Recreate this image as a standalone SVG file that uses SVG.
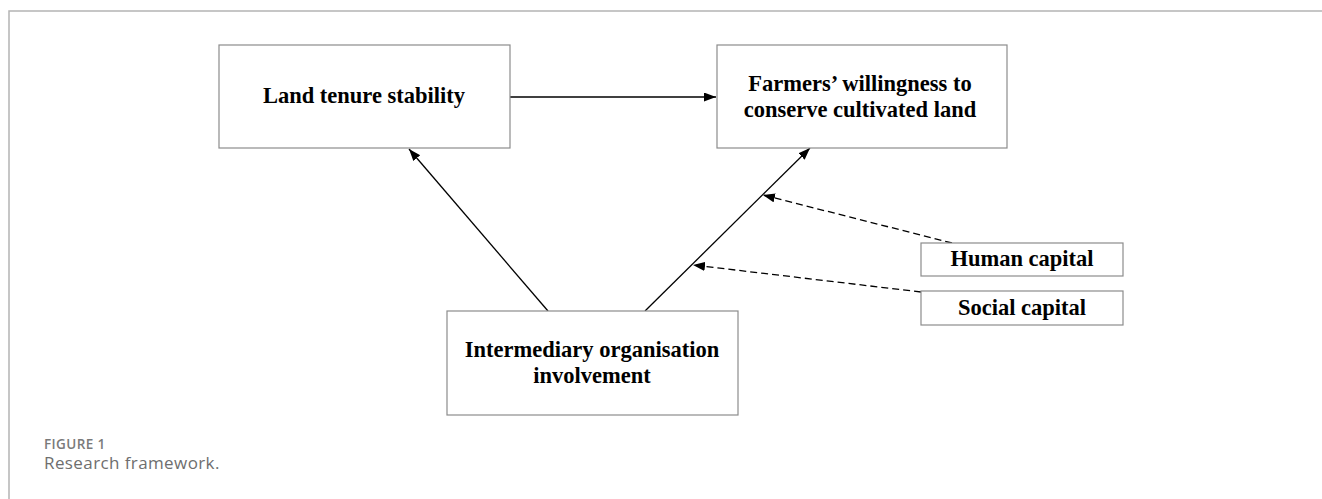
<svg xmlns="http://www.w3.org/2000/svg" width="1322" height="499" viewBox="0 0 1322 499">
<defs>
<style>
.box{fill:#fff;stroke:#8c8c8c;stroke-width:1.2}
.lbl{font-family:"Liberation Serif","Times New Roman",serif;font-weight:bold;font-size:22.5px;fill:#000;text-anchor:middle}
.edge{stroke:#000;stroke-width:1.3;fill:none}
.dash{stroke-dasharray:7 4}
.frame{stroke:#b4b4b4;stroke-width:1.5;fill:none}
.cap{font-family:"Open Sans","Liberation Sans",sans-serif}
</style>
<marker id="ah" markerUnits="userSpaceOnUse" markerWidth="13" markerHeight="10" refX="12" refY="4.5" orient="auto">
<path d="M0,0 L12,4.5 L0,9 z" fill="#000"/>
</marker>
</defs>
<rect width="1322" height="499" fill="#fff"/>
<path class="frame" d="M9,499 V11 H1322"/>
<g id="connectors">
<line class="edge" x1="510" y1="97" x2="716" y2="97" marker-end="url(#ah)"/>
<line class="edge" x1="548" y1="311" x2="409" y2="149" marker-end="url(#ah)"/>
<line class="edge" x1="645" y1="311" x2="810" y2="148" marker-end="url(#ah)"/>
<line class="edge dash" x1="952" y1="243" x2="763" y2="195" marker-end="url(#ah)"/>
<line class="edge dash" x1="921" y1="292" x2="693" y2="265" marker-end="url(#ah)"/>
</g>
<g id="land-tenure">
<rect class="box" x="219" y="45" width="291" height="103"/>
<text class="lbl" x="364" y="103">Land tenure stability</text>
</g>
<g id="willingness">
<rect class="box" x="717" y="45" width="290" height="103"/>
<text class="lbl" x="860" y="91">Farmers’ willingness to</text>
<text class="lbl" x="860" y="117">conserve cultivated land</text>
</g>
<g id="intermediary">
<rect class="box" x="447" y="311" width="291" height="104"/>
<text class="lbl" x="592" y="357">Intermediary organisation</text>
<text class="lbl" x="592" y="383">involvement</text>
</g>
<g id="human-capital">
<rect class="box" x="921" y="243" width="202" height="33"/>
<text class="lbl" x="1022" y="266">Human capital</text>
</g>
<g id="social-capital">
<rect class="box" x="921" y="291" width="202" height="34"/>
<text class="lbl" x="1022" y="315">Social capital</text>
</g>
<g id="caption">
<text class="cap" x="44" y="449" font-weight="600" font-size="13.5" letter-spacing="0.4" fill="#7a7a7a">FIGURE 1</text>
<text class="cap" x="44" y="469" font-size="17" letter-spacing="0.4" fill="#6e6e6e">Research framework.</text>
</g>
</svg>
